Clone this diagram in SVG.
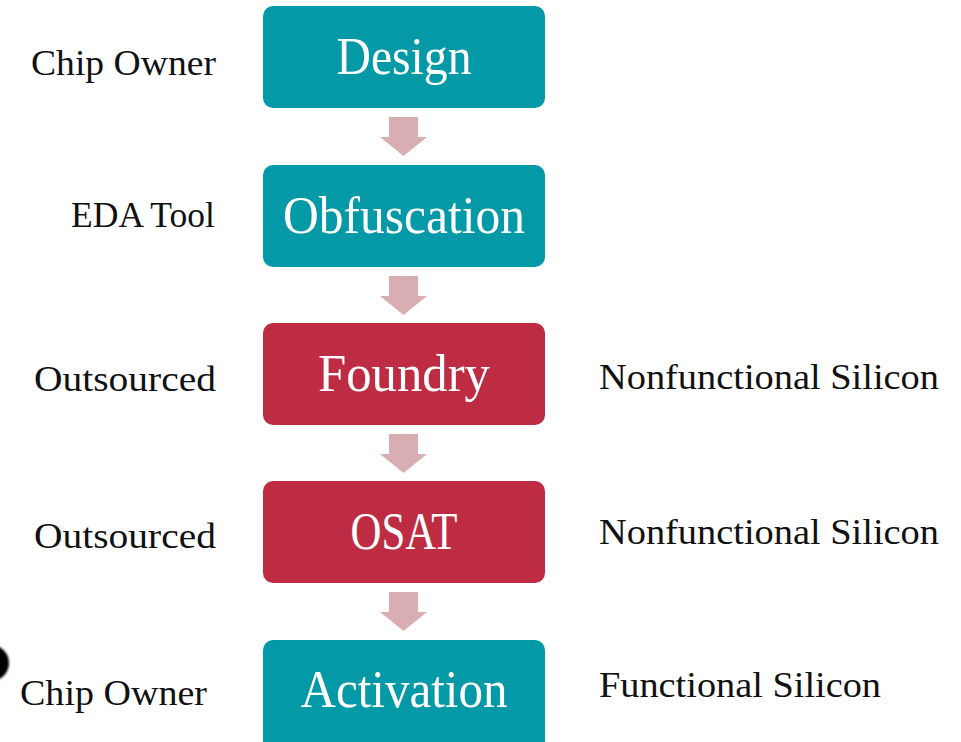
<svg xmlns="http://www.w3.org/2000/svg" width="961" height="742" viewBox="0 0 961 742">
  <defs>
    <style>
      .step-teal { fill: #0499A6; }
      .step-red { fill: #BD2C42; }
      .step-label { font-family: "Liberation Serif", "DejaVu Serif", serif; font-size: 52px; fill: #FFFFFF; text-anchor: middle; }
      .side { font-family: "Liberation Serif", "DejaVu Serif", serif; font-size: 36px; fill: #111111; }
      .flow { fill: #D9AEB2; }
    </style>
    <path id="down" d="M389,0 H418 V20 H427 L403.5,39 L380,20 H389 Z"/>
    <filter id="soft" x="-50%" y="-50%" width="200%" height="200%">
      <feGaussianBlur stdDeviation="1.2"/>
    </filter>
  </defs>
  <rect width="961" height="742" fill="#FFFFFF"/>

  <!-- partial dark disc at the left edge -->
  <circle cx="-9" cy="663" r="18" fill="#000000" filter="url(#soft)"/>

  <!-- flow arrows -->
  <g id="connectors" class="flow">
    <use href="#down" y="117"/>
    <use href="#down" y="276"/>
    <use href="#down" y="434"/>
    <use href="#down" y="592"/>
  </g>

  <g id="design">
    <rect class="step-teal" x="263" y="6" width="282" height="102" rx="10"/>
    <text class="step-label" x="404" y="74" textLength="135" lengthAdjust="spacingAndGlyphs">Design</text>
  </g>
  <g id="obfuscation">
    <rect class="step-teal" x="263" y="165" width="282" height="102" rx="10"/>
    <text class="step-label" x="404" y="233" textLength="242" lengthAdjust="spacingAndGlyphs">Obfuscation</text>
  </g>
  <g id="foundry">
    <rect class="step-red" x="263" y="323" width="282" height="102" rx="10"/>
    <text class="step-label" x="404" y="391" textLength="172" lengthAdjust="spacingAndGlyphs">Foundry</text>
  </g>
  <g id="osat">
    <rect class="step-red" x="263" y="481" width="282" height="102" rx="10"/>
    <text class="step-label" x="404" y="549" textLength="107" lengthAdjust="spacingAndGlyphs">OSAT</text>
  </g>
  <g id="activation">
    <rect class="step-teal" x="263" y="640" width="282" height="112" rx="10"/>
    <text class="step-label" x="404" y="707" textLength="207" lengthAdjust="spacingAndGlyphs">Activation</text>
  </g>

  <!-- who performs each step -->
  <g id="actors">
    <text class="side" x="31" y="75" textLength="185" lengthAdjust="spacingAndGlyphs">Chip Owner</text>
    <text class="side" x="71" y="227" textLength="144" lengthAdjust="spacingAndGlyphs">EDA Tool</text>
    <text class="side" x="34" y="391" textLength="182" lengthAdjust="spacingAndGlyphs">Outsourced</text>
    <text class="side" x="34" y="548" textLength="182" lengthAdjust="spacingAndGlyphs">Outsourced</text>
    <text class="side" x="20" y="705" textLength="187" lengthAdjust="spacingAndGlyphs">Chip Owner</text>
  </g>

  <!-- resulting silicon state -->
  <g id="states">
    <text class="side" x="599" y="389" textLength="340" lengthAdjust="spacingAndGlyphs">Nonfunctional Silicon</text>
    <text class="side" x="599" y="544" textLength="340" lengthAdjust="spacingAndGlyphs">Nonfunctional Silicon</text>
    <text class="side" x="599" y="697" textLength="282" lengthAdjust="spacingAndGlyphs">Functional Silicon</text>
  </g>
</svg>
